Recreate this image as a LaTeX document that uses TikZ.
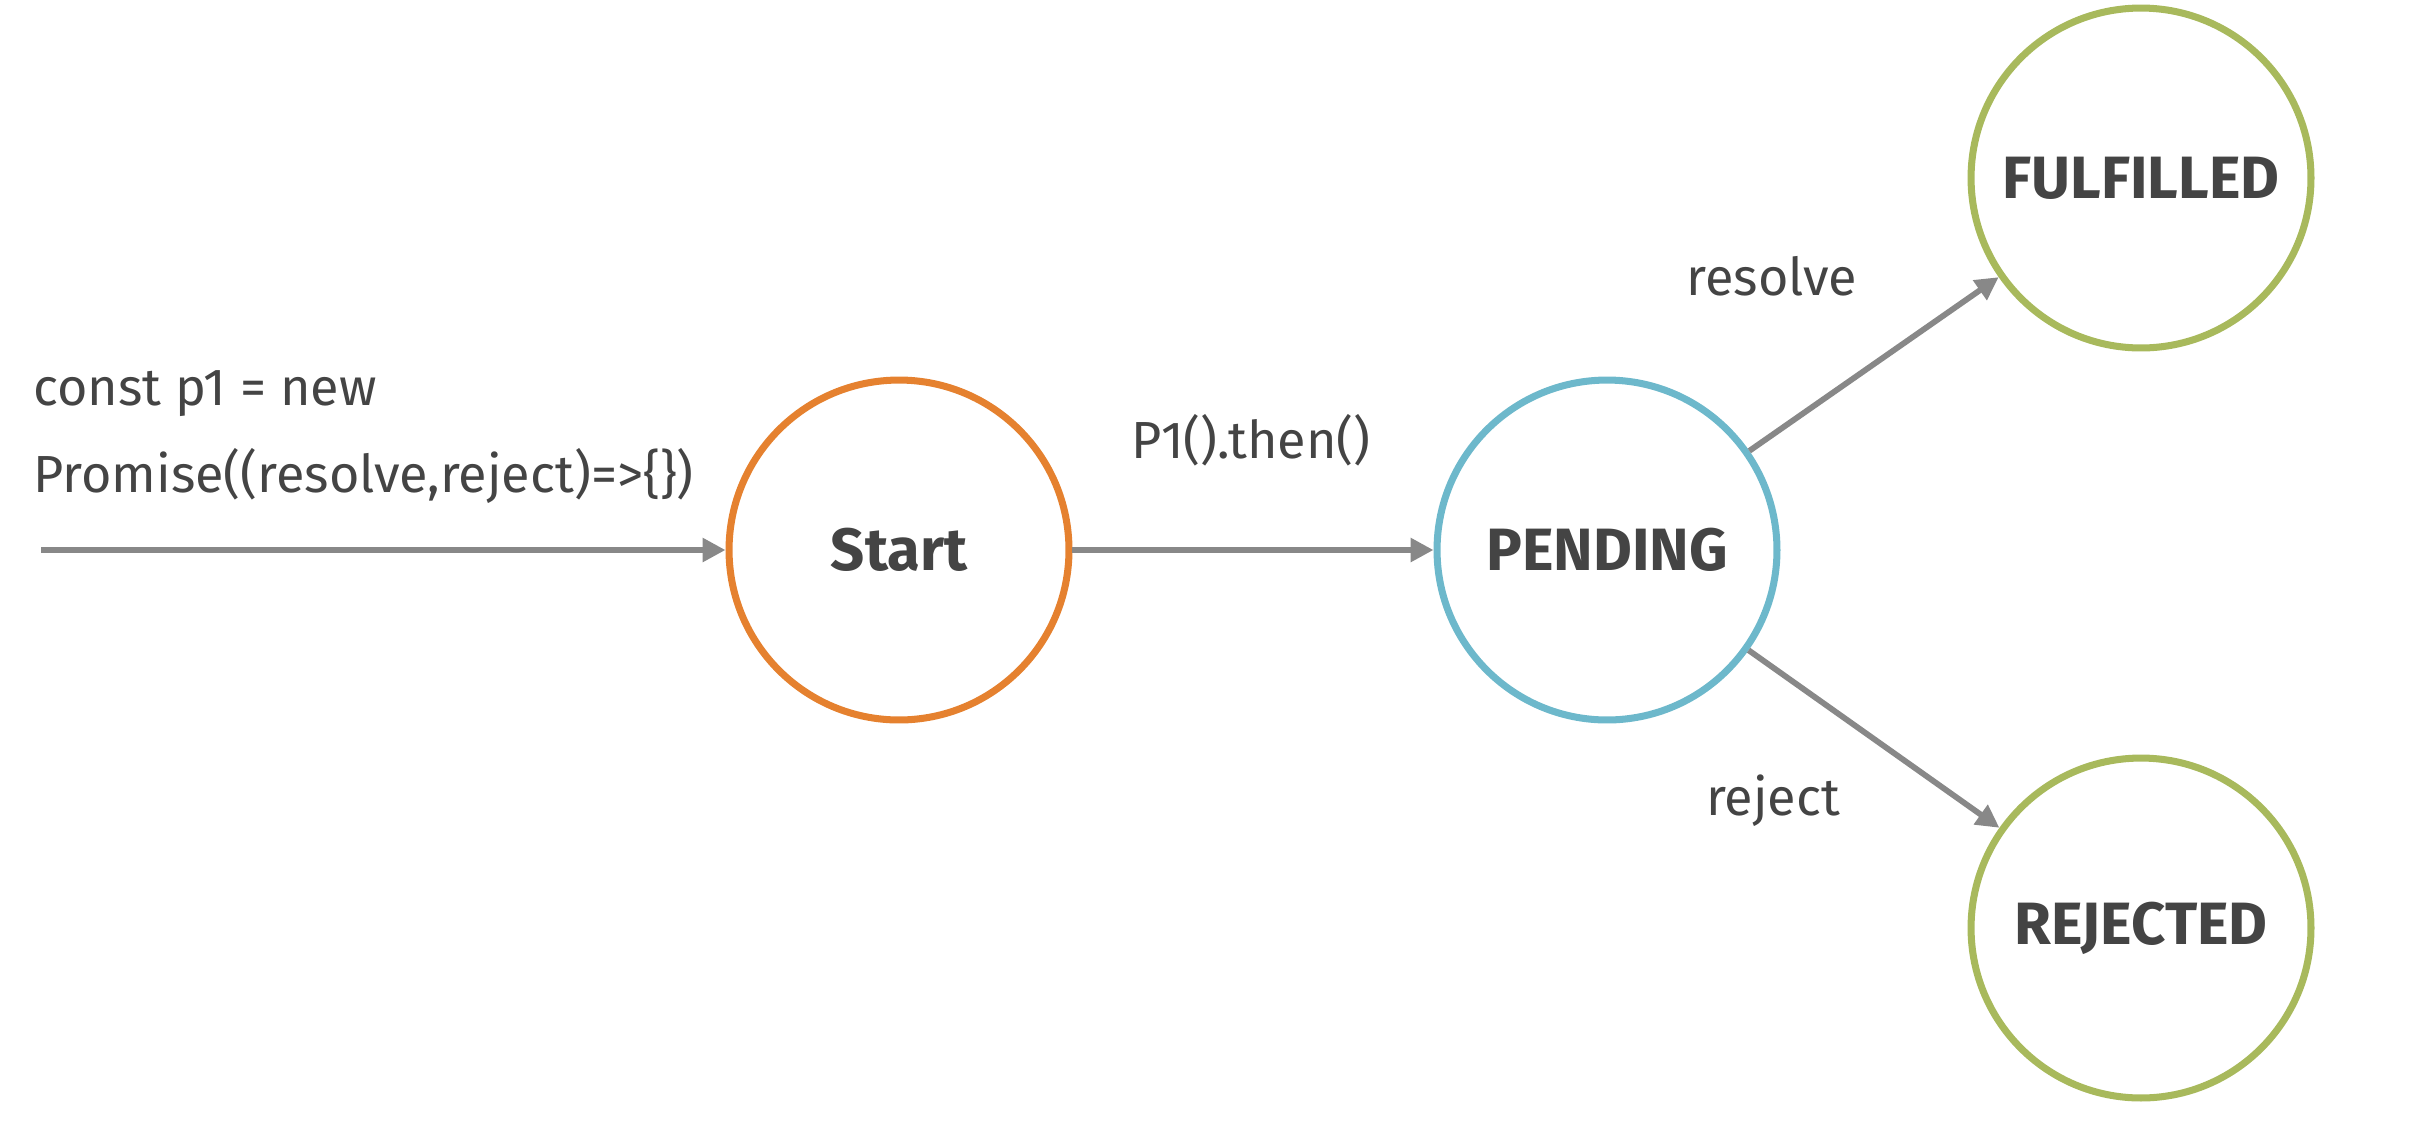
\documentclass[tikz,border=0pt]{standalone}
\usepackage{fontspec}
\setmainfont{Fira Sans}
\usetikzlibrary{arrows.meta}
\definecolor{txt}{HTML}{444444}
\definecolor{arr}{HTML}{888888}
\definecolor{corange}{HTML}{E5812F}
\definecolor{cblue}{HTML}{6DB8CB}
\definecolor{cgreen}{HTML}{A8B95C}
\begin{document}
\begin{tikzpicture}[x=0.02cm,y=-0.02cm,
  state/.style={circle, draw, line width=4pt, minimum size=6.8cm, inner sep=0pt,
    font=\bfseries\fontsize{34}{40}\selectfont, text=txt},
  conn/.style={draw=arr, line width=3.3pt, -{Triangle[length=0.46cm,width=0.46cm]}},
  lbl/.style={inner sep=0pt, font=\fontsize{29.7}{35}\selectfont, text=txt}]
\useasboundingbox (0,0) rectangle (2412,1120);
\node[state, draw=corange] (start) at (899,550) {Start};
\node[state, draw=cblue] (pend) at (1607,550) {PENDING};
\node[state, draw=cgreen] (ful) at (2141,178) {FULFILLED};
\node[state, draw=cgreen] (rej) at (2141,928) {REJECTED};
\coordinate (in) at (41,550);
\draw[conn] (in) -- (start);
\draw[conn] (start) -- (pend);
\draw[conn] (pend) -- (ful);
\draw[conn] (pend) -- (rej);
\node[lbl, anchor=base west] (l1) at (33,405) {const p1 = new};
\node[lbl, anchor=base west] (l2) at (33,492) {Promise((resolve,reject)=>\{\})};
\node[lbl, anchor=base] (lthen) at (1251,458) {P1().then()};
\node[lbl, anchor=base] (lres) at (1772,295) {resolve};
\node[lbl, anchor=base] (lrej) at (1773,815) {reject};
\end{tikzpicture}
\end{document}
